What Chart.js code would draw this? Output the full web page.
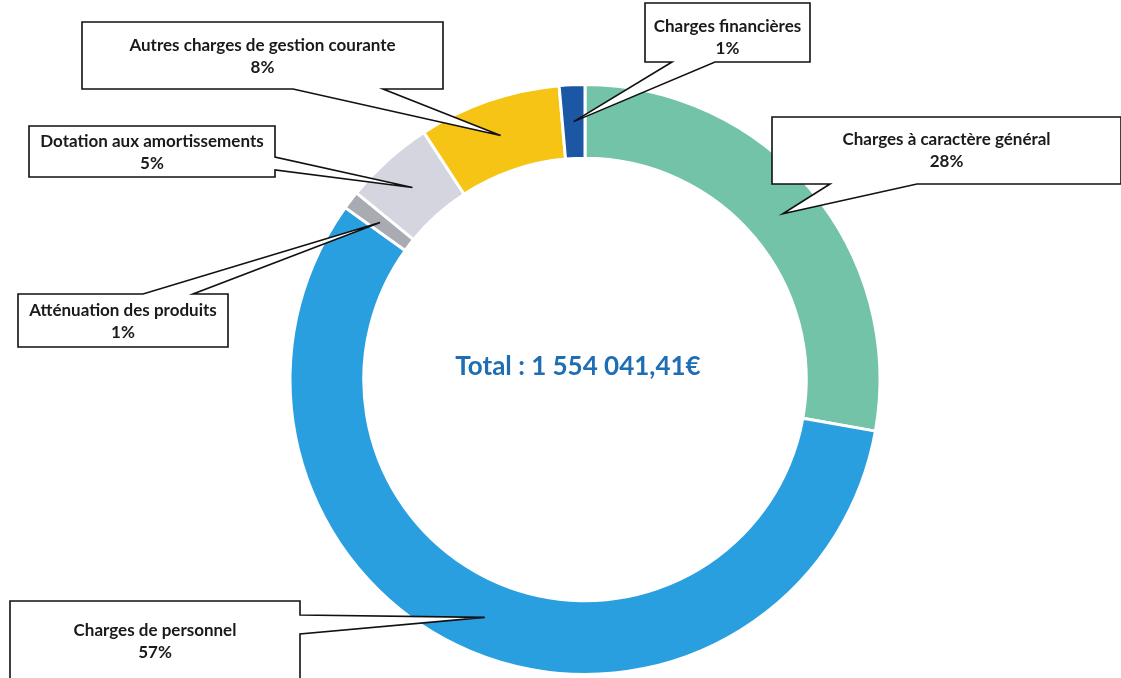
<!DOCTYPE html>
<html lang="fr">
<head>
<meta charset="UTF-8">
<title>Répartition des charges</title>
<script src="https://cdn.jsdelivr.net/npm/chart.js"></script>
<style>
  html, body { margin: 0; padding: 0; background: #fff; }
  #wrap { width: 1121px; height: 678px; position: relative; }
</style>
</head>
<body>
<div id="wrap"><canvas id="chart" width="1121" height="678"></canvas></div>
<script>
// données (ordre horaire depuis le haut)
const labels = [
  'Charges à caractère général',
  'Charges de personnel',
  'Atténuation des produits',
  'Dotation aux amortissements',
  'Autres charges de gestion courante',
  'Charges financières'
];
const shares = [27.8, 57.1, 1.0, 4.9, 7.8, 1.4];
const pctLabels = ['28%', '57%', '1%', '5%', '8%', '1%'];
const totalText = 'Total : 1 554 041,41€';

const colors = ['#72c3a8', '#2a9fe0', '#a9abb2', '#d4d5df', '#f5c414', '#1c57a5'];

// position des bulles (x1,y1,x2,y2), côté du pointeur et base du pointeur, centre du texte
const callouts = [
  { box: [772, 117, 1121, 184], side: 'bottom', base: [830, 917], ty: 151 },
  { box: [10, 601, 300, 700], side: 'right', base: [615, 634], ty: 642 },
  { box: [18, 294, 228, 347], side: 'top', base: [143, 193], ty: 322 },
  { box: [29, 126, 275, 177], side: 'right', base: [157, 170], ty: 153 },
  { box: [82, 22, 443, 89], side: 'bottom', base: [293, 383], ty: 57 },
  { box: [645, 3, 810, 62], side: 'bottom', base: [672, 715], ty: 38 }
];

function drawCallout(ctx, c, tip) {
  const [x1, y1, x2, y2] = c.box;
  const [a, b] = c.base;
  ctx.beginPath();
  ctx.moveTo(x1, y1);
  if (c.side === 'top') {
    ctx.lineTo(a, y1); ctx.lineTo(tip.x, tip.y); ctx.lineTo(b, y1);
  }
  ctx.lineTo(x2, y1);
  if (c.side === 'right') {
    ctx.lineTo(x2, a); ctx.lineTo(tip.x, tip.y); ctx.lineTo(x2, b);
  }
  ctx.lineTo(x2, y2);
  if (c.side === 'bottom') {
    ctx.lineTo(b, y2); ctx.lineTo(tip.x, tip.y); ctx.lineTo(a, y2);
  }
  ctx.lineTo(x1, y2);
  ctx.closePath();
  ctx.fillStyle = '#fff';
  ctx.fill();
  ctx.lineWidth = 1.6;
  ctx.strokeStyle = '#111';
  ctx.lineJoin = 'miter';
  ctx.stroke();
}

const calloutPlugin = {
  id: 'callouts',
  afterDatasetsDraw(chart) {
    const ctx = chart.ctx;
    const arcs = chart.getDatasetMeta(0).data;
    ctx.save();
    callouts.forEach((c, i) => {
      const tip = arcs[i].getCenterPoint();
      drawCallout(ctx, c, tip);
      const cx = (c.box[0] + c.box[2]) / 2;
      ctx.fillStyle = '#1a1a1a';
      ctx.font = 'bold 17px Lato';
      ctx.textAlign = 'center';
      ctx.textBaseline = 'middle';
      ctx.fillText(labels[i], cx, c.ty - 11);
      ctx.fillText(pctLabels[i], cx, c.ty + 11);
    });
    // texte central
    const a0 = arcs[0];
    ctx.fillStyle = '#1f6db3';
    ctx.font = 'bold 26px Lato';
    ctx.textAlign = 'center';
    ctx.textBaseline = 'middle';
    ctx.fillText(totalText, a0.x - 7, a0.y - 13);
    ctx.restore();
  }
};

new Chart(document.getElementById('chart'), {
  type: 'doughnut',
  data: {
    labels: labels,
    datasets: [{
      data: shares,
      backgroundColor: colors,
      borderColor: '#ffffff',
      borderWidth: 3
    }]
  },
  options: {
    responsive: false,
    animation: false,
    cutout: '75%',
    layout: { padding: { left: 288.5, right: 239.5, top: 83, bottom: 2 } },
    plugins: {
      legend: { display: false },
      tooltip: { enabled: false }
    }
  },
  plugins: [calloutPlugin]
});
</script>
</body>
</html>
